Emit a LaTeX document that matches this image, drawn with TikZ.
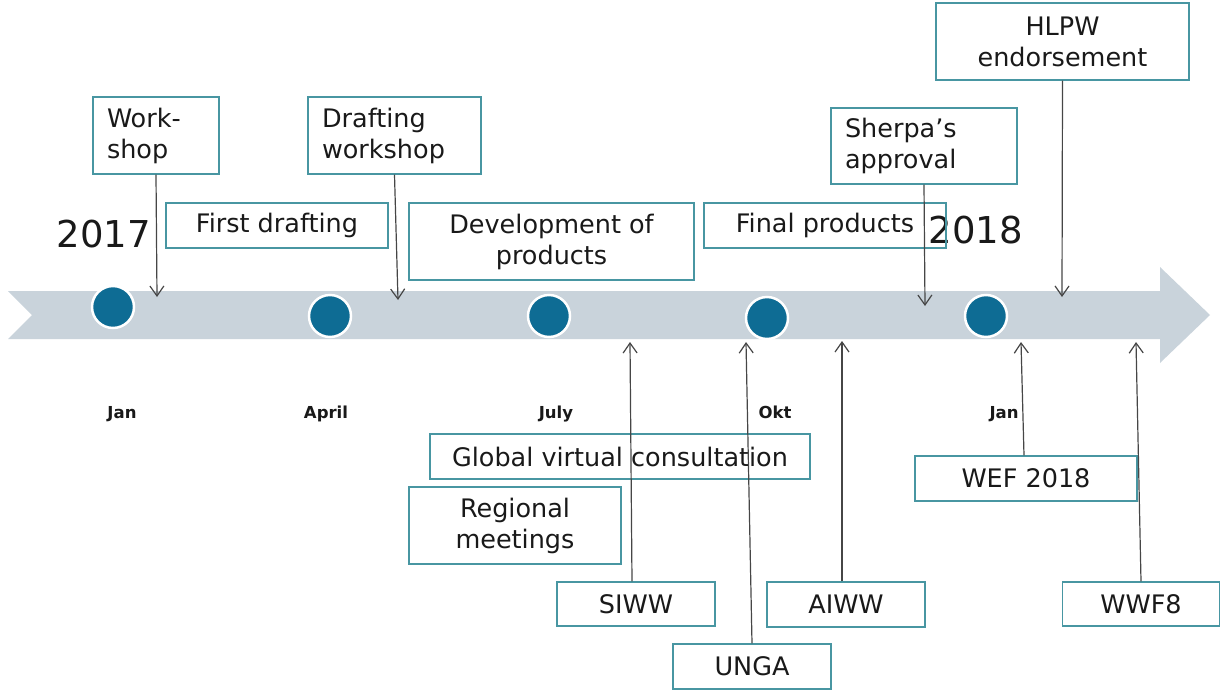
\documentclass[tikz,border=0pt]{standalone}
\usepackage{fontspec}
\setmainfont{DejaVu Sans}
\usetikzlibrary{arrows.meta}
\definecolor{bandgray}{RGB}{201,211,219}
\definecolor{dotblue}{RGB}{14,108,148}
\definecolor{boxteal}{RGB}{72,150,162}
\definecolor{linegray}{RGB}{70,70,70}
\definecolor{textdark}{RGB}{25,25,25}
\begin{document}
\begin{tikzpicture} [x=1pt, y=-1pt, >={Straight Barb[length=10pt,width=14pt]}]
    \tikzstyle{event box} = [draw=boxteal, line width=1.3pt, inner sep=0pt, align=center, text=textdark, font=\fontsize{25.5}{31}\selectfont]
    \tikzstyle{left box} = [event box, inner xsep=14pt, align=left]
    \tikzstyle{month dot} = [circle, fill=dotblue, draw=white, line width=2.5pt, minimum size=42pt, inner sep=0pt]
    \tikzstyle{month} = [anchor=base, text=textdark, font=\fontsize{16.5}{18}\selectfont\bfseries]
    \tikzstyle{year} = [anchor=base, text=textdark, font=\fontsize{37}{40}\selectfont]
    \tikzstyle{pointer} = [draw=linegray, line width=1.2pt, ->]

      \useasboundingbox (0,0) rectangle (1221,691);

      \fill[bandgray] (8,291) -- (1160,291) -- (1160,267) -- (1210,315) -- (1160,363)
            -- (1160,339) -- (8,339) -- (32,315) -- cycle;

      \node[month dot] (d1) at (113,307) {};
      \node[month dot] (d2) at (330,316) {};
      \node[month dot] (d3) at (549,316) {};
      \node[month dot] (d4) at (767,318) {};
      \node[month dot] (d5) at (986,316) {};

      \node[month] (jan)   at (122,418) {Jan};
      \node[month] (april) at (326,418) {April};
      \node[month] (july)  at (556,418) {July};
      \node[month] (okt)   at (775,418) {Okt};
      \node[month] (jan2)  at (1004,418) {Jan};

      \node[year] (y17) at (104,247) {2017};
      \node[year] (y18) at (976,243) {2018};

      \node[left box, text width=98pt, minimum height=77pt]   (workshop) at (156,135.5)  {Work-\\shop};
      \node[left box, text width=145pt, minimum height=77pt]  (drafting) at (394.5,135.5) {Drafting\\workshop};
      \node[event box, minimum width=222pt, minimum height=45pt] (first) at (277,225.5) {First drafting};
      \node[event box, minimum width=285pt, minimum height=77pt] (devel) at (551.5,241.5) {Development of\\products};
      \node[event box, minimum width=242pt, minimum height=45pt] (final) at (825,225.5) {Final products};
      \node[left box, text width=158pt, minimum height=76pt]  (sherpa) at (924,146) {Sherpa’s\\approval};
      \node[event box, minimum width=253pt, minimum height=77pt] (hlpw) at (1062.5,41.5) {HLPW\\endorsement};

      \node[event box, minimum width=380pt, minimum height=45pt] (global) at (620,456.5) {Global virtual consultation};
      \node[event box, minimum width=212pt, minimum height=77pt] (regional) at (515,525.5) {Regional\\meetings};
      \node[event box, minimum width=158pt, minimum height=44pt] (siww) at (636,604) {SIWW};
      \node[event box, minimum width=158pt, minimum height=45pt] (unga) at (752,666.5) {UNGA};
      \node[event box, minimum width=158pt, minimum height=45pt] (aiww) at (846,604.5) {AIWW};
      \node[event box, minimum width=222pt, minimum height=45pt] (wef) at (1026,478.5) {WEF 2018};
      \node[event box, minimum width=157pt, minimum height=44pt] (wwf) at (1141,604) {WWF8};

      \coordinate (t-work)   at (157,297);
      \coordinate (t-draft)  at (398,300);
      \coordinate (t-sherpa) at (925,306);
      \coordinate (t-hlpw)   at (1062,297);
      \coordinate (t-siww)   at (630,342);
      \coordinate (t-unga)   at (746,342);
      \coordinate (t-aiww)   at (842,341);
      \coordinate (t-wef)    at (1021,342);
      \coordinate (t-wwf)    at (1136,342);

      \draw[pointer] (workshop.south) -- (t-work);
      \draw[pointer] (drafting.south) -- (t-draft);
      \draw[pointer] (sherpa.south) -- (t-sherpa);
      \draw[pointer] (hlpw.south) -- (t-hlpw);
      \draw[pointer] ([xshift=-4pt]siww.north) -- (t-siww);
      \draw[pointer] (unga.north) -- (t-unga);
      \draw[pointer] ([xshift=-4pt]aiww.north) -- (t-aiww);
      \draw[pointer] ([xshift=-2pt]wef.north) -- (t-wef);
      \draw[pointer] (wwf.north) -- (t-wwf);
    \end{tikzpicture}
\end{document}
